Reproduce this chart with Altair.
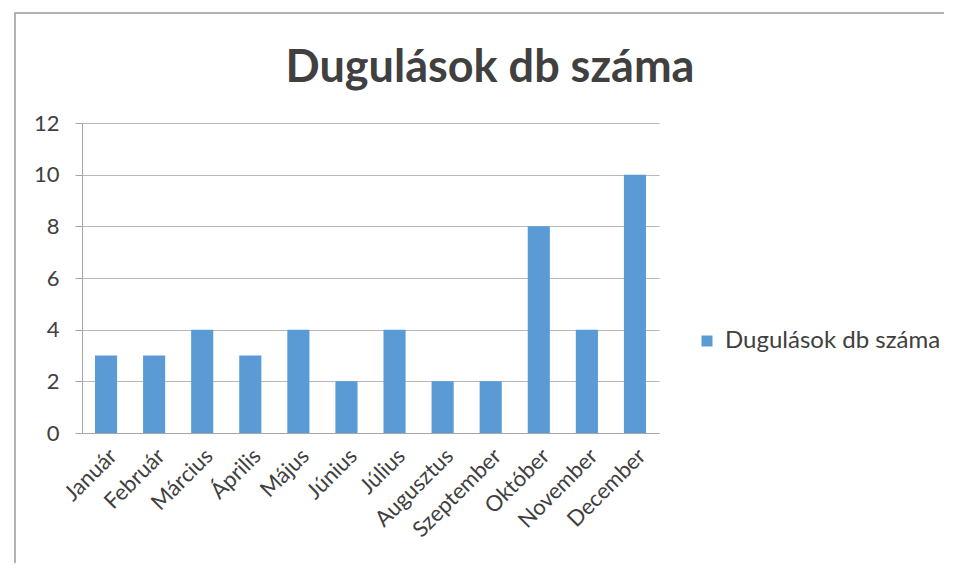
import altair as alt
import pandas as pd

months = ["Január", "Február", "Március", "Április", "Május", "Június",
          "Július", "Augusztus", "Szeptember", "Október", "November", "December"]
values = [3, 3, 4, 3, 4, 2, 4, 2, 2, 8, 4, 10]
series_name = "Dugulások db száma"
chart_title = "Dugulások db száma"

df = pd.DataFrame({"Hónap": months, "Érték": values, "Sorozat": [series_name] * len(months)})
one = pd.DataFrame({"t": [chart_title]})

FONT = "Lato"
TXT = "#404040"

bars = alt.Chart(df).mark_bar(color="#5B9BD5").encode(
    x=alt.X("Hónap:N", sort=months, title=None,
            scale=alt.Scale(paddingInner=0.54, paddingOuter=0.27),
            axis=alt.Axis(labelAngle=-45, labelFontSize=22, labelColor=TXT, labelFont=FONT,
                          ticks=False, domainColor="#a6a6a6", labelPadding=12)),
    y=alt.Y("Érték:Q", title=None,
            scale=alt.Scale(domain=[0, 12], nice=False),
            axis=alt.Axis(values=[0, 2, 4, 6, 8, 10, 12], labelFontSize=22, labelColor=TXT,
                          labelFont=FONT, tickSize=7, tickColor="#a6a6a6",
                          domainColor="#a6a6a6", gridColor="#b8b8b8", labelPadding=16)),
    fill=alt.Fill("Sorozat:N", scale=alt.Scale(range=["#5B9BD5"]),
                  legend=alt.Legend(title=None, orient="none", legendX=613, legendY=206,
                                    symbolType="square", symbolSize=121, labelFontSize=24,
                                    labelFont=FONT, labelColor=TXT, symbolStrokeWidth=0,
                                    labelLimit=400, labelOffset=6)),
)

frame = alt.Chart(one).mark_rect(fill=None, stroke="#9a9a9a", strokeWidth=1.5).encode(
    x=alt.value(-67), x2=alt.value(863), y=alt.value(-110), y2=alt.value(448)
)

title = alt.Chart(one).mark_text(
    font=FONT, fontSize=45, fontWeight="bold", color=TXT, align="center", baseline="alphabetic"
).encode(text="t:N", x=alt.value(408), y=alt.value(-41))

chart = alt.layer(frame, bars, title).properties(
    width=577, height=310,
    padding={"left": 74, "top": 115, "right": 285, "bottom": 130},
    autosize=alt.AutoSizeParams(type="none"),
).configure_view(stroke=None)

chart.save("out.html", embed_options={"renderer": "svg", "actions": False})
